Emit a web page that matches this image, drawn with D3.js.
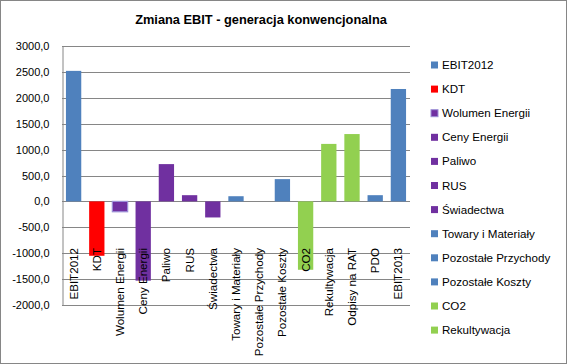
<!DOCTYPE html>
<html><head><meta charset="utf-8">
<script src="https://cdn.jsdelivr.net/npm/d3@7"></script>
<style>body{margin:0;background:#fff}svg{display:block}</style>
</head><body>
<svg id="c" width="567" height="364"></svg>
<script>
const title = "Zmiana EBIT - generacja konwencjonalna";
const categories = ["EBIT2012","KDT","Wolumen Energii","Ceny Energii","Paliwo","RUS","Świadectwa","Towary i Materiały","Pozostałe Przychody","Pozostałe Koszty","CO2","Rekultywacja","Odpisy na RAT","PDO","EBIT2013"];
const values = [2520,-1050,-200,-1530,720,120,-310,100,0,430,-1320,1110,1300,120,2170];
const groups = ["base","kdt","volume","energy","energy","energy","energy","base","base","base","green","green","green","base","base"];
const legendItems = categories.slice(0,12);
const yTicks = [-2000,-1500,-1000,-500,0,500,1000,1500,2000,2500,3000];

const palette = {base:"#4F81BD",kdt:"#FF0000",volume:"#7030A0",energy:"#7030A0",green:"#92D050"};
const FONT = "'Liberation Sans', Arial, sans-serif";

const svg = d3.select("#c");
svg.append("rect").attr("x",0.5).attr("y",0.5).attr("width",566).attr("height",363)
  .attr("fill","#fff").attr("stroke","#868686");

const L=62, R=410, T=46, B=305;
const x = d3.scaleBand().domain(categories).range([L,R]).paddingInner(0.34).paddingOuter(0.17);
const y = d3.scaleLinear().domain([-2000,3000]).range([B,T]);

svg.append("text").attr("x",261).attr("y",24).attr("text-anchor","middle")
  .attr("font-family",FONT).attr("font-weight","bold").attr("font-size",12.8).text(title);

// gridlines
svg.append("g").selectAll("line").data(yTicks).join("line")
  .attr("x1",L).attr("x2",R).attr("y1",d=>Math.round(y(d))+0.5).attr("y2",d=>Math.round(y(d))+0.5)
  .attr("stroke","#868686").attr("stroke-width",1);

// y axis
const yAxis = d3.axisLeft(y).tickValues(yTicks).tickSize(0).tickPadding(13)
  .tickFormat(d=>d3.format(".1f")(d).replace(".",",").replace("−","-"));
const ga = svg.append("g").attr("transform",`translate(${L+0.5},0)`).call(yAxis);
ga.select(".domain").attr("stroke","#868686");
ga.selectAll("text").attr("font-family",FONT).attr("font-size",11).attr("fill","#000");

// bars
svg.append("g").selectAll("rect").data(categories).join("rect")
  .attr("x",d=>x(d)).attr("width",x.bandwidth())
  .attr("y",(d,i)=>y(Math.max(0,values[i])))
  .attr("height",(d,i)=>Math.abs(y(values[i])-y(0)))
  .attr("fill",(d,i)=>palette[groups[i]])
  .attr("stroke",(d,i)=>groups[i]==="volume"?"#9b8fd6":"none")
  .attr("stroke-width",1.2);

// x labels
svg.append("g").selectAll("text").data(categories).join("text")
  .attr("transform",d=>`translate(${x(d)+x.bandwidth()/2+4},248) rotate(-90)`)
  .attr("text-anchor","end").attr("font-family",FONT).attr("font-size",11.6).text(d=>d);

// legend
const lg = svg.append("g");
legendItems.forEach((name,i)=>{
  const cy = 65 + i*24.1;
  const gi = groups[i];
  lg.append("rect").attr("x",431).attr("y",cy-3.5).attr("width",7).attr("height",7)
    .attr("fill",palette[gi]).attr("stroke",gi==="volume"?"#9b8fd6":"none").attr("stroke-width",1);
  lg.append("text").attr("x",442).attr("y",cy+4).attr("font-family",FONT).attr("font-size",11.6).text(name);
});
</script>
</body></html>
